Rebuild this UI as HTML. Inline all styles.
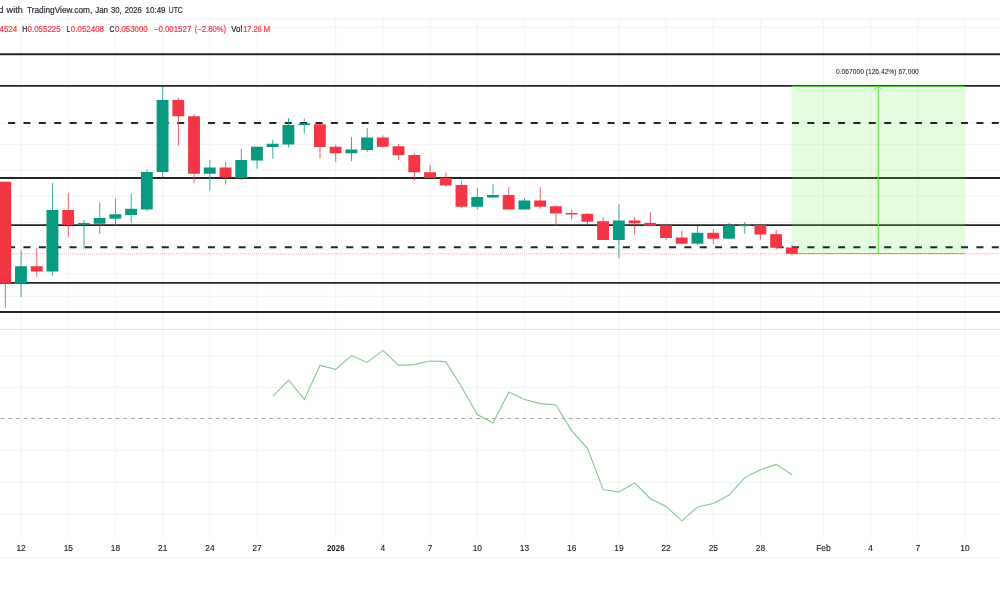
<!DOCTYPE html>
<html><head><meta charset="utf-8"><style>
html,body{margin:0;padding:0;background:#fff;width:1000px;height:600px;overflow:hidden;font-family:"Liberation Sans",sans-serif;}
svg{display:block;will-change:transform;}
</style></head><body>
<svg width="1000" height="600" viewBox="0 0 1000 600">
<rect width="1000" height="600" fill="#ffffff"/>
<line x1="21.10" y1="18.5" x2="21.10" y2="538.5" stroke="#f3f3f4" stroke-width="1"/>
<line x1="68.30" y1="18.5" x2="68.30" y2="538.5" stroke="#f3f3f4" stroke-width="1"/>
<line x1="115.49" y1="18.5" x2="115.49" y2="538.5" stroke="#f3f3f4" stroke-width="1"/>
<line x1="162.69" y1="18.5" x2="162.69" y2="538.5" stroke="#f3f3f4" stroke-width="1"/>
<line x1="209.88" y1="18.5" x2="209.88" y2="538.5" stroke="#f3f3f4" stroke-width="1"/>
<line x1="257.08" y1="18.5" x2="257.08" y2="538.5" stroke="#f3f3f4" stroke-width="1"/>
<line x1="335.74" y1="18.5" x2="335.74" y2="538.5" stroke="#f3f3f4" stroke-width="1"/>
<line x1="382.94" y1="18.5" x2="382.94" y2="538.5" stroke="#f3f3f4" stroke-width="1"/>
<line x1="430.13" y1="18.5" x2="430.13" y2="538.5" stroke="#f3f3f4" stroke-width="1"/>
<line x1="477.33" y1="18.5" x2="477.33" y2="538.5" stroke="#f3f3f4" stroke-width="1"/>
<line x1="524.52" y1="18.5" x2="524.52" y2="538.5" stroke="#f3f3f4" stroke-width="1"/>
<line x1="571.72" y1="18.5" x2="571.72" y2="538.5" stroke="#f3f3f4" stroke-width="1"/>
<line x1="618.92" y1="18.5" x2="618.92" y2="538.5" stroke="#f3f3f4" stroke-width="1"/>
<line x1="666.11" y1="18.5" x2="666.11" y2="538.5" stroke="#f3f3f4" stroke-width="1"/>
<line x1="713.31" y1="18.5" x2="713.31" y2="538.5" stroke="#f3f3f4" stroke-width="1"/>
<line x1="760.50" y1="18.5" x2="760.50" y2="538.5" stroke="#f3f3f4" stroke-width="1"/>
<line x1="823.43" y1="18.5" x2="823.43" y2="538.5" stroke="#f3f3f4" stroke-width="1"/>
<line x1="870.63" y1="18.5" x2="870.63" y2="538.5" stroke="#f3f3f4" stroke-width="1"/>
<line x1="917.82" y1="18.5" x2="917.82" y2="538.5" stroke="#f3f3f4" stroke-width="1"/>
<line x1="965.02" y1="18.5" x2="965.02" y2="538.5" stroke="#f3f3f4" stroke-width="1"/>
<line x1="0" y1="27.4" x2="1000" y2="27.4" stroke="#f3f3f4" stroke-width="1"/>
<line x1="0" y1="123" x2="1000" y2="123" stroke="#f3f3f4" stroke-width="1"/>
<line x1="0" y1="144.4" x2="1000" y2="144.4" stroke="#f3f3f4" stroke-width="1"/>
<line x1="0" y1="170" x2="1000" y2="170" stroke="#f3f3f4" stroke-width="1"/>
<line x1="0" y1="196" x2="1000" y2="196" stroke="#f3f3f4" stroke-width="1"/>
<line x1="0" y1="222.6" x2="1000" y2="222.6" stroke="#f3f3f4" stroke-width="1"/>
<line x1="0" y1="249.2" x2="1000" y2="249.2" stroke="#f3f3f4" stroke-width="1"/>
<line x1="0" y1="273.7" x2="1000" y2="273.7" stroke="#f3f3f4" stroke-width="1"/>
<line x1="0" y1="296.3" x2="1000" y2="296.3" stroke="#f3f3f4" stroke-width="1"/>
<line x1="0" y1="318.8" x2="1000" y2="318.8" stroke="#f3f3f4" stroke-width="1"/>
<line x1="0" y1="355.6" x2="1000" y2="355.6" stroke="#f3f3f4" stroke-width="1"/>
<line x1="0" y1="387.4" x2="1000" y2="387.4" stroke="#f3f3f4" stroke-width="1"/>
<line x1="0" y1="450.6" x2="1000" y2="450.6" stroke="#f3f3f4" stroke-width="1"/>
<line x1="0" y1="482.5" x2="1000" y2="482.5" stroke="#f3f3f4" stroke-width="1"/>
<line x1="0" y1="514.2" x2="1000" y2="514.2" stroke="#f3f3f4" stroke-width="1"/>
<line x1="0" y1="18.8" x2="1000" y2="18.8" stroke="#f3f4f5" stroke-width="1.4"/>
<line x1="0" y1="329.4" x2="1000" y2="329.4" stroke="#e0e3eb" stroke-width="1"/>
<line x1="0" y1="558" x2="1000" y2="558" stroke="#eef0f3" stroke-width="1.2"/>
<line x1="0" y1="54.3" x2="1000" y2="54.3" stroke="#262626" stroke-width="1.9"/>
<line x1="0" y1="85.9" x2="1000" y2="85.9" stroke="#262626" stroke-width="1.9"/>
<line x1="0" y1="178.0" x2="1000" y2="178.0" stroke="#262626" stroke-width="1.9"/>
<line x1="0" y1="225.1" x2="1000" y2="225.1" stroke="#262626" stroke-width="1.9"/>
<line x1="0" y1="282.9" x2="1000" y2="282.9" stroke="#262626" stroke-width="1.9"/>
<line x1="0" y1="312.0" x2="1000" y2="312.0" stroke="#262626" stroke-width="1.9"/>
<rect x="791.6" y="86" width="173.1" height="167.8" fill="#6cf24a" fill-opacity="0.18"/>
<line x1="791.6" y1="86.3" x2="964.7" y2="86.3" stroke="#55e33c" stroke-width="1"/>
<line x1="791.6" y1="253.6" x2="964.7" y2="253.6" stroke="#55e33c" stroke-width="1"/>
<line x1="878.3" y1="86.5" x2="878.3" y2="253.6" stroke="#55ea36" stroke-width="1"/>
<polyline points="874.3,89.4 878.3,86.3 881.6,89.1" fill="none" stroke="#55ea36" stroke-width="1"/>
<line x1="0" y1="123.0" x2="1000" y2="123.0" stroke="#262626" stroke-width="1.9" stroke-dasharray="7.0 8.37" stroke-dashoffset="7.27"/>
<line x1="0" y1="247.2" x2="1000" y2="247.2" stroke="#262626" stroke-width="1.9" stroke-dasharray="7.0 8.37" stroke-dashoffset="7.27"/>
<line x1="0" y1="253.8" x2="1000" y2="253.8" stroke="#f23645" stroke-opacity="0.45" stroke-width="1" stroke-dasharray="1 1"/>
<line x1="0" y1="418.5" x2="1000" y2="418.5" stroke="#a0a3ac" stroke-width="1" stroke-dasharray="3.6 4.079" stroke-dashoffset="7.08"/>
<polyline points="272.81,396.4 288.54,380 304.28,399.4 320.01,365.4 335.74,369.4 351.47,355.6 367.20,362.4 382.94,350.4 398.67,365.4 414.40,364.6 430.13,361 445.86,361.6 461.60,387 477.33,414.6 493.06,423 508.79,392 524.52,399.6 540.26,403.6 555.99,405 571.72,430.8 587.45,448.3 603.18,489.6 618.92,492 634.65,482.9 650.38,498.7 666.11,506.4 681.84,520.8 697.58,506.9 713.31,503.5 729.04,495.1 744.77,477.6 760.50,469.7 776.24,464.4 791.97,474.7" fill="none" stroke="#82c98a" stroke-width="1.1" stroke-linejoin="miter"/>
<line x1="5.37" y1="181.75" x2="5.37" y2="307.5" stroke="#f23645" stroke-width="1" stroke-opacity="0.8"/>
<rect x="-0.68" y="181.75" width="11.85" height="101.25" fill="#f23645"/>
<line x1="21.10" y1="250" x2="21.10" y2="297" stroke="#089981" stroke-width="1" stroke-opacity="0.8"/>
<rect x="15.05" y="266.25" width="11.85" height="16.75" fill="#089981"/>
<line x1="36.83" y1="248" x2="36.83" y2="276.75" stroke="#f23645" stroke-width="1" stroke-opacity="0.8"/>
<rect x="30.78" y="266.25" width="11.85" height="5.25" fill="#f23645"/>
<line x1="52.56" y1="183" x2="52.56" y2="275.75" stroke="#089981" stroke-width="1" stroke-opacity="0.8"/>
<rect x="46.51" y="210" width="11.85" height="61.50" fill="#089981"/>
<line x1="68.30" y1="193" x2="68.30" y2="237" stroke="#f23645" stroke-width="1" stroke-opacity="0.8"/>
<rect x="62.25" y="210" width="11.85" height="15.00" fill="#f23645"/>
<line x1="84.03" y1="220" x2="84.03" y2="248.75" stroke="#089981" stroke-width="1" stroke-opacity="0.8"/>
<rect x="77.98" y="223" width="11.85" height="1.50" fill="#089981"/>
<line x1="99.76" y1="202.5" x2="99.76" y2="233.75" stroke="#089981" stroke-width="1" stroke-opacity="0.8"/>
<rect x="93.71" y="218" width="11.85" height="5.75" fill="#089981"/>
<line x1="115.49" y1="198.75" x2="115.49" y2="225.5" stroke="#089981" stroke-width="1" stroke-opacity="0.8"/>
<rect x="109.44" y="214.25" width="11.85" height="4.50" fill="#089981"/>
<line x1="131.22" y1="193.75" x2="131.22" y2="222.5" stroke="#089981" stroke-width="1" stroke-opacity="0.8"/>
<rect x="125.17" y="208.75" width="11.85" height="6.25" fill="#089981"/>
<line x1="146.96" y1="169.25" x2="146.96" y2="211.25" stroke="#089981" stroke-width="1" stroke-opacity="0.8"/>
<rect x="140.91" y="172" width="11.85" height="37.50" fill="#089981"/>
<line x1="162.69" y1="86.25" x2="162.69" y2="177.5" stroke="#089981" stroke-width="1" stroke-opacity="0.8"/>
<rect x="156.64" y="100" width="11.85" height="72.00" fill="#089981"/>
<line x1="178.42" y1="98" x2="178.42" y2="145.75" stroke="#f23645" stroke-width="1" stroke-opacity="0.8"/>
<rect x="172.37" y="100" width="11.85" height="16.25" fill="#f23645"/>
<line x1="194.15" y1="114.25" x2="194.15" y2="183.25" stroke="#f23645" stroke-width="1" stroke-opacity="0.8"/>
<rect x="188.10" y="116.25" width="11.85" height="57.50" fill="#f23645"/>
<line x1="209.88" y1="160" x2="209.88" y2="190.75" stroke="#089981" stroke-width="1" stroke-opacity="0.8"/>
<rect x="203.83" y="167.5" width="11.85" height="6.25" fill="#089981"/>
<line x1="225.62" y1="162" x2="225.62" y2="184.5" stroke="#f23645" stroke-width="1" stroke-opacity="0.8"/>
<rect x="219.57" y="167.5" width="11.85" height="10.00" fill="#f23645"/>
<line x1="241.35" y1="148.75" x2="241.35" y2="180" stroke="#089981" stroke-width="1" stroke-opacity="0.8"/>
<rect x="235.30" y="160" width="11.85" height="18.00" fill="#089981"/>
<line x1="257.08" y1="146.75" x2="257.08" y2="168.75" stroke="#089981" stroke-width="1" stroke-opacity="0.8"/>
<rect x="251.03" y="146.75" width="11.85" height="13.75" fill="#089981"/>
<line x1="272.81" y1="140" x2="272.81" y2="158.75" stroke="#089981" stroke-width="1" stroke-opacity="0.8"/>
<rect x="266.76" y="143.75" width="11.85" height="3.25" fill="#089981"/>
<line x1="288.54" y1="118" x2="288.54" y2="147.5" stroke="#089981" stroke-width="1" stroke-opacity="0.8"/>
<rect x="282.49" y="125" width="11.85" height="19.50" fill="#089981"/>
<line x1="304.28" y1="118.75" x2="304.28" y2="133.75" stroke="#089981" stroke-width="1" stroke-opacity="0.8"/>
<rect x="298.23" y="123.5" width="11.85" height="1.50" fill="#089981"/>
<line x1="320.01" y1="124.25" x2="320.01" y2="158.5" stroke="#f23645" stroke-width="1" stroke-opacity="0.8"/>
<rect x="313.96" y="124.25" width="11.85" height="22.75" fill="#f23645"/>
<line x1="335.74" y1="144.5" x2="335.74" y2="162" stroke="#f23645" stroke-width="1" stroke-opacity="0.8"/>
<rect x="329.69" y="146.75" width="11.85" height="6.50" fill="#f23645"/>
<line x1="351.47" y1="137" x2="351.47" y2="161.25" stroke="#089981" stroke-width="1" stroke-opacity="0.8"/>
<rect x="345.42" y="149.5" width="11.85" height="3.75" fill="#089981"/>
<line x1="367.20" y1="128.25" x2="367.20" y2="151.75" stroke="#089981" stroke-width="1" stroke-opacity="0.8"/>
<rect x="361.15" y="137.5" width="11.85" height="12.50" fill="#089981"/>
<line x1="382.94" y1="135.5" x2="382.94" y2="147.5" stroke="#f23645" stroke-width="1" stroke-opacity="0.8"/>
<rect x="376.89" y="137.5" width="11.85" height="9.25" fill="#f23645"/>
<line x1="398.67" y1="143.75" x2="398.67" y2="160" stroke="#f23645" stroke-width="1" stroke-opacity="0.8"/>
<rect x="392.62" y="146.25" width="11.85" height="9.00" fill="#f23645"/>
<line x1="414.40" y1="153" x2="414.40" y2="180.6" stroke="#f23645" stroke-width="1" stroke-opacity="0.8"/>
<rect x="408.35" y="155" width="11.85" height="17.25" fill="#f23645"/>
<line x1="430.13" y1="165" x2="430.13" y2="178" stroke="#f23645" stroke-width="1" stroke-opacity="0.8"/>
<rect x="424.08" y="172.25" width="11.85" height="5.75" fill="#f23645"/>
<line x1="445.86" y1="172.5" x2="445.86" y2="186.75" stroke="#f23645" stroke-width="1" stroke-opacity="0.8"/>
<rect x="439.81" y="178" width="11.85" height="7.50" fill="#f23645"/>
<line x1="461.60" y1="181.25" x2="461.60" y2="208" stroke="#f23645" stroke-width="1" stroke-opacity="0.8"/>
<rect x="455.55" y="185" width="11.85" height="21.75" fill="#f23645"/>
<line x1="477.33" y1="188" x2="477.33" y2="209.5" stroke="#089981" stroke-width="1" stroke-opacity="0.8"/>
<rect x="471.28" y="197" width="11.85" height="9.75" fill="#089981"/>
<line x1="493.06" y1="184.25" x2="493.06" y2="198" stroke="#089981" stroke-width="1" stroke-opacity="0.8"/>
<rect x="487.01" y="195" width="11.85" height="2.50" fill="#089981"/>
<line x1="508.79" y1="187" x2="508.79" y2="209.5" stroke="#f23645" stroke-width="1" stroke-opacity="0.8"/>
<rect x="502.74" y="195" width="11.85" height="14.50" fill="#f23645"/>
<line x1="524.52" y1="198.25" x2="524.52" y2="209.5" stroke="#089981" stroke-width="1" stroke-opacity="0.8"/>
<rect x="518.47" y="200.5" width="11.85" height="9.00" fill="#089981"/>
<line x1="540.26" y1="187" x2="540.26" y2="208.75" stroke="#f23645" stroke-width="1" stroke-opacity="0.8"/>
<rect x="534.21" y="200.5" width="11.85" height="6.25" fill="#f23645"/>
<line x1="555.99" y1="205.5" x2="555.99" y2="225.5" stroke="#f23645" stroke-width="1" stroke-opacity="0.8"/>
<rect x="549.94" y="206.25" width="11.85" height="7.25" fill="#f23645"/>
<line x1="571.72" y1="210" x2="571.72" y2="219.25" stroke="#f23645" stroke-width="1" stroke-opacity="0.8"/>
<rect x="565.67" y="213" width="11.85" height="1.50" fill="#f23645"/>
<line x1="587.45" y1="213" x2="587.45" y2="224.7" stroke="#f23645" stroke-width="1" stroke-opacity="0.8"/>
<rect x="581.40" y="213.8" width="11.85" height="7.90" fill="#f23645"/>
<line x1="603.18" y1="217" x2="603.18" y2="240" stroke="#f23645" stroke-width="1" stroke-opacity="0.8"/>
<rect x="597.13" y="221.2" width="11.85" height="18.80" fill="#f23645"/>
<line x1="618.92" y1="204.2" x2="618.92" y2="258.3" stroke="#089981" stroke-width="1" stroke-opacity="0.8"/>
<rect x="612.87" y="220.5" width="11.85" height="19.50" fill="#089981"/>
<line x1="634.65" y1="217" x2="634.65" y2="234.7" stroke="#f23645" stroke-width="1" stroke-opacity="0.8"/>
<rect x="628.60" y="220.5" width="11.85" height="2.80" fill="#f23645"/>
<line x1="650.38" y1="212.2" x2="650.38" y2="225.8" stroke="#f23645" stroke-width="1" stroke-opacity="0.8"/>
<rect x="644.33" y="223" width="11.85" height="2.80" fill="#f23645"/>
<line x1="666.11" y1="225.3" x2="666.11" y2="240" stroke="#f23645" stroke-width="1" stroke-opacity="0.8"/>
<rect x="660.06" y="225.3" width="11.85" height="12.70" fill="#f23645"/>
<line x1="681.84" y1="230.8" x2="681.84" y2="244.2" stroke="#f23645" stroke-width="1" stroke-opacity="0.8"/>
<rect x="675.79" y="237.5" width="11.85" height="6.20" fill="#f23645"/>
<line x1="697.58" y1="225.8" x2="697.58" y2="245" stroke="#089981" stroke-width="1" stroke-opacity="0.8"/>
<rect x="691.53" y="232.8" width="11.85" height="10.90" fill="#089981"/>
<line x1="713.31" y1="229.2" x2="713.31" y2="243.7" stroke="#f23645" stroke-width="1" stroke-opacity="0.8"/>
<rect x="707.26" y="232.8" width="11.85" height="5.90" fill="#f23645"/>
<line x1="729.04" y1="223" x2="729.04" y2="238.7" stroke="#089981" stroke-width="1" stroke-opacity="0.8"/>
<rect x="722.99" y="225.3" width="11.85" height="13.40" fill="#089981"/>
<line x1="744.77" y1="222" x2="744.77" y2="233.7" stroke="#089981" stroke-width="1" stroke-opacity="0.8"/>
<rect x="738.72" y="224.8" width="11.85" height="1.40" fill="#089981"/>
<line x1="760.50" y1="225" x2="760.50" y2="239.5" stroke="#f23645" stroke-width="1" stroke-opacity="0.8"/>
<rect x="754.45" y="225" width="11.85" height="9.50" fill="#f23645"/>
<line x1="776.24" y1="230" x2="776.24" y2="249.7" stroke="#f23645" stroke-width="1" stroke-opacity="0.8"/>
<rect x="770.19" y="234.2" width="11.85" height="13.60" fill="#f23645"/>
<line x1="791.97" y1="245" x2="791.97" y2="255.5" stroke="#f23645" stroke-width="1" stroke-opacity="0.8"/>
<rect x="785.92" y="247.5" width="11.85" height="6.30" fill="#f23645"/>
<text x="-1.2" y="13" font-family="Liberation Sans, sans-serif" font-size="8.4" fill="#2a2e39" stroke="#2a2e39" stroke-width="0.2">d</text>
<text x="6.6" y="13" font-family="Liberation Sans, sans-serif" font-size="8.4" fill="#2a2e39" stroke="#2a2e39" stroke-width="0.2" textLength="16.1" lengthAdjust="spacingAndGlyphs">with</text>
<text x="27.0" y="13" font-family="Liberation Sans, sans-serif" font-size="8.4" fill="#2a2e39" stroke="#2a2e39" stroke-width="0.2" textLength="65.21" lengthAdjust="spacingAndGlyphs">TradingView.com,</text>
<text x="95.2" y="13" font-family="Liberation Sans, sans-serif" font-size="8.4" fill="#2a2e39" stroke="#2a2e39" stroke-width="0.2" textLength="12.89" lengthAdjust="spacingAndGlyphs">Jan</text>
<text x="110.9" y="13" font-family="Liberation Sans, sans-serif" font-size="8.4" fill="#2a2e39" stroke="#2a2e39" stroke-width="0.2" textLength="10.6" lengthAdjust="spacingAndGlyphs">30,</text>
<text x="124.7" y="13" font-family="Liberation Sans, sans-serif" font-size="8.4" fill="#2a2e39" stroke="#2a2e39" stroke-width="0.2" textLength="16.97" lengthAdjust="spacingAndGlyphs">2026</text>
<text x="145.6" y="13" font-family="Liberation Sans, sans-serif" font-size="8.4" fill="#2a2e39" stroke="#2a2e39" stroke-width="0.2" textLength="19.87" lengthAdjust="spacingAndGlyphs">10:49</text>
<text x="168.8" y="13" font-family="Liberation Sans, sans-serif" font-size="8.4" fill="#2a2e39" stroke="#2a2e39" stroke-width="0.2" textLength="13.98" lengthAdjust="spacingAndGlyphs">UTC</text>
<text x="-0.5" y="31.9" font-family="Liberation Sans, sans-serif" font-size="8.6" fill="#f23645" stroke="#f23645" stroke-width="0.2" textLength="17.6" lengthAdjust="spacingAndGlyphs">4524</text>
<text x="22.3" y="31.9" font-family="Liberation Sans, sans-serif" font-size="8.6" fill="#131722" stroke="#131722" stroke-width="0.2" textLength="4.98" lengthAdjust="spacingAndGlyphs">H</text>
<text x="27.5" y="31.9" font-family="Liberation Sans, sans-serif" font-size="8.6" fill="#f23645" stroke="#f23645" stroke-width="0.2" textLength="33.16" lengthAdjust="spacingAndGlyphs">0.055225</text>
<text x="66.5" y="31.9" font-family="Liberation Sans, sans-serif" font-size="8.6" fill="#131722" stroke="#131722" stroke-width="0.2" textLength="3.63" lengthAdjust="spacingAndGlyphs">L</text>
<text x="70.8" y="31.9" font-family="Liberation Sans, sans-serif" font-size="8.6" fill="#f23645" stroke="#f23645" stroke-width="0.2" textLength="33.26" lengthAdjust="spacingAndGlyphs">0.052408</text>
<text x="109.5" y="31.9" font-family="Liberation Sans, sans-serif" font-size="8.6" fill="#131722" stroke="#131722" stroke-width="0.2" textLength="4.87" lengthAdjust="spacingAndGlyphs">C</text>
<text x="114.9" y="31.9" font-family="Liberation Sans, sans-serif" font-size="8.6" fill="#f23645" stroke="#f23645" stroke-width="0.2" textLength="32.86" lengthAdjust="spacingAndGlyphs">0.053000</text>
<text x="153.8" y="31.9" font-family="Liberation Sans, sans-serif" font-size="8.6" fill="#f23645" stroke="#f23645" stroke-width="0.2" textLength="37.49" lengthAdjust="spacingAndGlyphs">−0.001527</text>
<text x="194.7" y="31.9" font-family="Liberation Sans, sans-serif" font-size="8.6" fill="#f23645" stroke="#f23645" stroke-width="0.2" textLength="31.4" lengthAdjust="spacingAndGlyphs">(−2.80%)</text>
<text x="231.3" y="31.9" font-family="Liberation Sans, sans-serif" font-size="8.6" fill="#131722" stroke="#131722" stroke-width="0.2" textLength="10.86" lengthAdjust="spacingAndGlyphs">Vol</text>
<text x="243.2" y="31.9" font-family="Liberation Sans, sans-serif" font-size="8.6" fill="#f23645" stroke="#f23645" stroke-width="0.2" textLength="18.48" lengthAdjust="spacingAndGlyphs">17.26</text>
<text x="263.6" y="31.9" font-family="Liberation Sans, sans-serif" font-size="8.6" fill="#f23645" stroke="#f23645" stroke-width="0.2" textLength="6.76" lengthAdjust="spacingAndGlyphs">M</text>
<text x="836.0" y="74" font-family="Liberation Sans, sans-serif" font-size="7" fill="#131722" stroke="#131722" stroke-width="0.05" textLength="82.81" lengthAdjust="spacingAndGlyphs">0.067000 (126.42%) 67,000</text>
<text transform="translate(21.10,551) scale(0.93,1)" font-family="Liberation Sans, sans-serif" font-size="9" fill="#131722" stroke="#131722" stroke-width="0.12" text-anchor="middle">12</text>
<text transform="translate(68.30,551) scale(0.93,1)" font-family="Liberation Sans, sans-serif" font-size="9" fill="#131722" stroke="#131722" stroke-width="0.12" text-anchor="middle">15</text>
<text transform="translate(115.49,551) scale(0.93,1)" font-family="Liberation Sans, sans-serif" font-size="9" fill="#131722" stroke="#131722" stroke-width="0.12" text-anchor="middle">18</text>
<text transform="translate(162.69,551) scale(0.93,1)" font-family="Liberation Sans, sans-serif" font-size="9" fill="#131722" stroke="#131722" stroke-width="0.12" text-anchor="middle">21</text>
<text transform="translate(209.88,551) scale(0.93,1)" font-family="Liberation Sans, sans-serif" font-size="9" fill="#131722" stroke="#131722" stroke-width="0.12" text-anchor="middle">24</text>
<text transform="translate(257.08,551) scale(0.93,1)" font-family="Liberation Sans, sans-serif" font-size="9" fill="#131722" stroke="#131722" stroke-width="0.12" text-anchor="middle">27</text>
<text transform="translate(335.74,551) scale(0.88,1)" font-family="Liberation Sans, sans-serif" font-size="9" font-weight="bold" fill="#131722" text-anchor="middle">2026</text>
<text transform="translate(382.94,551) scale(0.93,1)" font-family="Liberation Sans, sans-serif" font-size="9" fill="#131722" stroke="#131722" stroke-width="0.12" text-anchor="middle">4</text>
<text transform="translate(430.13,551) scale(0.93,1)" font-family="Liberation Sans, sans-serif" font-size="9" fill="#131722" stroke="#131722" stroke-width="0.12" text-anchor="middle">7</text>
<text transform="translate(477.33,551) scale(0.93,1)" font-family="Liberation Sans, sans-serif" font-size="9" fill="#131722" stroke="#131722" stroke-width="0.12" text-anchor="middle">10</text>
<text transform="translate(524.52,551) scale(0.93,1)" font-family="Liberation Sans, sans-serif" font-size="9" fill="#131722" stroke="#131722" stroke-width="0.12" text-anchor="middle">13</text>
<text transform="translate(571.72,551) scale(0.93,1)" font-family="Liberation Sans, sans-serif" font-size="9" fill="#131722" stroke="#131722" stroke-width="0.12" text-anchor="middle">16</text>
<text transform="translate(618.92,551) scale(0.93,1)" font-family="Liberation Sans, sans-serif" font-size="9" fill="#131722" stroke="#131722" stroke-width="0.12" text-anchor="middle">19</text>
<text transform="translate(666.11,551) scale(0.93,1)" font-family="Liberation Sans, sans-serif" font-size="9" fill="#131722" stroke="#131722" stroke-width="0.12" text-anchor="middle">22</text>
<text transform="translate(713.31,551) scale(0.93,1)" font-family="Liberation Sans, sans-serif" font-size="9" fill="#131722" stroke="#131722" stroke-width="0.12" text-anchor="middle">25</text>
<text transform="translate(760.50,551) scale(0.93,1)" font-family="Liberation Sans, sans-serif" font-size="9" fill="#131722" stroke="#131722" stroke-width="0.12" text-anchor="middle">28</text>
<text transform="translate(823.43,551) scale(0.93,1)" font-family="Liberation Sans, sans-serif" font-size="9" fill="#131722" stroke="#131722" stroke-width="0.12" text-anchor="middle">Feb</text>
<text transform="translate(870.63,551) scale(0.93,1)" font-family="Liberation Sans, sans-serif" font-size="9" fill="#131722" stroke="#131722" stroke-width="0.12" text-anchor="middle">4</text>
<text transform="translate(917.82,551) scale(0.93,1)" font-family="Liberation Sans, sans-serif" font-size="9" fill="#131722" stroke="#131722" stroke-width="0.12" text-anchor="middle">7</text>
<text transform="translate(965.02,551) scale(0.93,1)" font-family="Liberation Sans, sans-serif" font-size="9" fill="#131722" stroke="#131722" stroke-width="0.12" text-anchor="middle">10</text>
</svg>
</body></html>
